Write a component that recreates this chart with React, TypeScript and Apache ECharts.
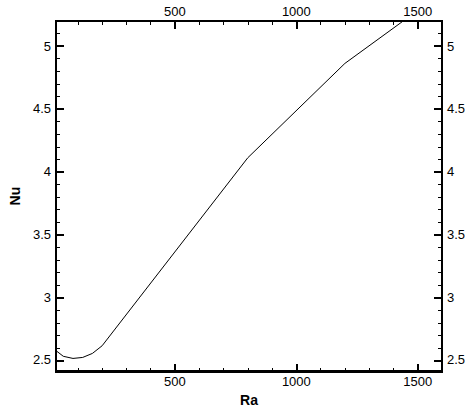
import React, { useEffect, useRef } from "react";
import * as echarts from "echarts";

const raValues = [10, 40, 80, 120, 160, 200, 800, 1200, 1600];
const nuValues = [2.573, 2.528, 2.511, 2.519, 2.551, 2.612, 4.11, 4.862, 5.425];

const xMajorTicks = [500, 1000, 1500];
const xMinorTicks = [100, 200, 300, 400, 600, 700, 800, 900, 1100, 1200, 1300, 1400];
const yMajorTicks = [2.5, 3, 3.5, 4, 4.5, 5];
const yMinorTicks = [2.6, 2.7, 2.8, 2.9, 3.1, 3.2, 3.3, 3.4, 3.6, 3.7, 3.8, 3.9, 4.1, 4.2, 4.3, 4.4, 4.6, 4.7, 4.8, 4.9, 5.1];

const X_MIN = 10;
const X_MAX = 1600;
const Y_MIN = 2.41;
const Y_MAX = 5.2;

const FONT = "Liberation Sans, Arial, sans-serif";
const GRID = { left: 56, right: 31, top: 21, bottom: 40 };

// Main layer: axis lines, labels, names and the data line
function labelAxis(kind: "x" | "y", position: string, withName: boolean) {
  const isX = kind === "x";
  const labels = isX ? xMajorTicks : yMajorTicks;
  const axis: any = {
    type: "value",
    position,
    min: isX ? X_MIN : Y_MIN,
    max: isX ? X_MAX : Y_MAX,
    splitLine: { show: false },
    axisLine: { show: true, lineStyle: { color: "#000", width: 2 } },
    axisTick: { show: false },
    axisLabel: {
      customValues: labels,
      color: "#000",
      fontSize: 13,
      fontFamily: FONT,
      formatter: (v: number) => String(v),
      margin: isX ? (position === "bottom" ? 4 : 3) : 5,
    },
  };
  if (withName) {
    axis.name = isX ? "Ra" : "Nu";
    axis.nameLocation = "middle";
    axis.nameGap = isX ? 18 : 31;
    axis.nameTextStyle = { color: "#000", fontSize: 14, fontWeight: "bold", fontFamily: FONT };
  }
  return axis;
}

// Tick layer: same scales, inside ticks only
function tickAxis(kind: "x" | "y", position: string, major: boolean, gridIndex: number) {
  const isX = kind === "x";
  const ticks = major ? (isX ? xMajorTicks : yMajorTicks) : isX ? xMinorTicks : yMinorTicks;
  return {
    type: "value",
    gridIndex,
    position,
    min: isX ? X_MIN : Y_MIN,
    max: isX ? X_MAX : Y_MAX,
    splitLine: { show: false },
    axisLine: { show: true, lineStyle: { color: "#000", width: 2 } },
    axisTick: {
      show: true,
      inside: true,
      length: major ? 8 : 4,
      customValues: ticks,
      lineStyle: { color: "#000", width: major ? 2 : 1 },
    },
    axisLabel: { show: false },
  };
}

export default function App() {
  const mainRef = useRef<HTMLDivElement>(null);
  const tickRef = useRef<HTMLDivElement>(null);
  useEffect(() => {
    if (!mainRef.current || !tickRef.current) return;
    const main = echarts.init(mainRef.current, null, { renderer: "svg" });
    const ticks = echarts.init(tickRef.current, null, { renderer: "svg" });
    const data = raValues.map((r, i) => [r, nuValues[i]]);
    main.setOption({
      animation: false,
      backgroundColor: "#fff",
      grid: GRID,
      xAxis: [labelAxis("x", "bottom", true), labelAxis("x", "top", false)],
      yAxis: [labelAxis("y", "left", true), labelAxis("y", "right", false)],
      series: [
        {
          type: "line",
          data,
          symbol: "none",
          lineStyle: { color: "#000", width: 1 },
        },
      ],
    });
    ticks.setOption({
      animation: false,
      grid: [GRID, { ...GRID }],
      xAxis: [
        tickAxis("x", "bottom", true, 0),
        tickAxis("x", "top", true, 0),
        tickAxis("x", "bottom", false, 1),
        tickAxis("x", "top", false, 1),
      ],
      yAxis: [
        tickAxis("y", "left", true, 0),
        tickAxis("y", "right", true, 0),
        tickAxis("y", "left", false, 1),
        tickAxis("y", "right", false, 1),
      ],
      series: [],
    });
    return () => {
      main.dispose();
      ticks.dispose();
    };
  }, []);
  const box: React.CSSProperties = { position: "fixed", left: 0, top: 0, width: 473, height: 412 };
  return (
    <>
      <div ref={mainRef} style={{ ...box, background: "#fff" }} />
      <div ref={tickRef} style={{ ...box, pointerEvents: "none" }} />
    </>
  );
}
